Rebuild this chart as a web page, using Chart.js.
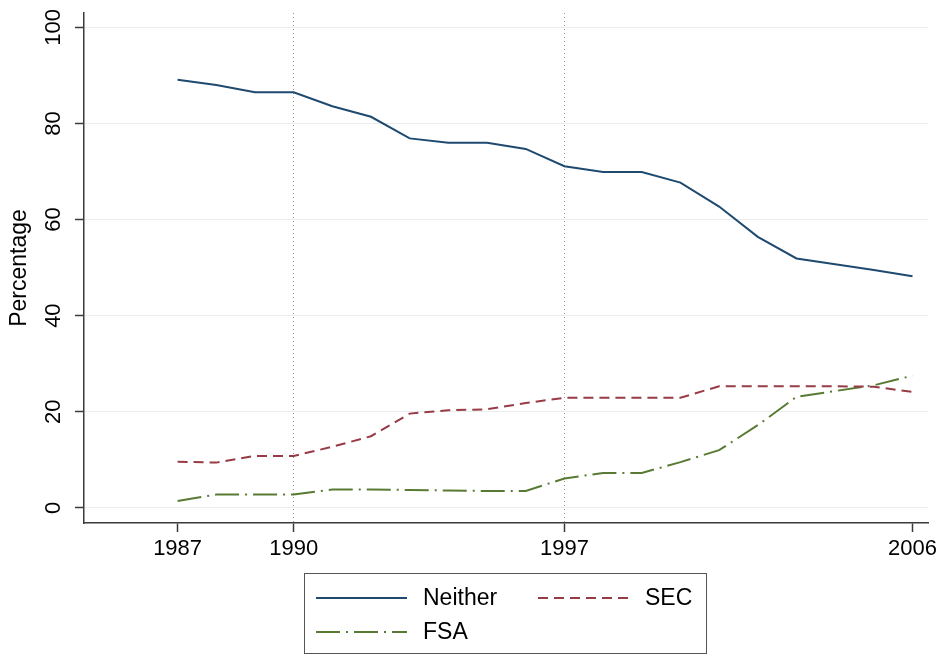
<!DOCTYPE html>
<html>
<head>
<meta charset="utf-8">
<script src="https://cdn.jsdelivr.net/npm/chart.js@4/dist/chart.umd.min.js"></script>
<style>
  html, body { margin: 0; padding: 0; background: #fff; }
  #wrap { width: 943px; height: 654px; }
</style>
</head>
<body>
<div id="wrap"><canvas id="lineChart" width="943" height="654"></canvas></div>
<script>
// datos
const years = [1987, 1988, 1989, 1990, 1991, 1992, 1993, 1994, 1995, 1996, 1997, 1998, 1999, 2000, 2001, 2002, 2003, 2004, 2005, 2006];
const neither = [89.1, 88.0, 86.5, 86.5, 83.6, 81.4, 76.9, 76.0, 76.0, 74.7, 71.1, 69.9, 69.9, 67.7, 62.7, 56.4, 51.9, 50.7, 49.5, 48.2];
const sec = [9.6, 9.4, 10.8, 10.8, 12.7, 14.9, 19.6, 20.3, 20.5, 21.8, 22.9, 22.9, 22.9, 22.9, 25.3, 25.3, 25.3, 25.3, 25.2, 24.1];
const fsa = [1.4, 2.75, 2.75, 2.75, 3.8, 3.8, 3.7, 3.6, 3.5, 3.5, 6.1, 7.25, 7.25, 9.5, 12.0, 17.2, 23.1, 24.3, 25.5, 27.5];
const xTicks = [1987, 1990, 1997, 2006];
const markYears = [1990, 1997];
const yTicks = [0, 20, 40, 60, 80, 100];

const FONT = '"Liberation Sans", Arial, Helvetica, sans-serif';

function toPoints(vals) {
    return years.map(function(y, i) { return { x: y, y: vals[i] }; });
}

// leyenda con caja, como en el original
const boxLegend = {
    id: 'boxLegend',
    afterDraw: function(chart) {
        const ctx = chart.ctx;
        const ds = chart.data.datasets;
        ctx.save();
        ctx.strokeStyle = '#555';
        ctx.lineWidth = 1;
        ctx.strokeRect(304.5, 573.5, 402, 80);
        const slots = [
            { x: 316, y: 598 },
            { x: 538, y: 598 },
            { x: 316, y: 632 }
        ];
        ds.forEach(function(d, i) {
            const s = slots[i];
            ctx.beginPath();
            ctx.setLineDash(d.borderDash || []);
            ctx.strokeStyle = d.borderColor;
            ctx.lineWidth = 2;
            ctx.moveTo(s.x, s.y);
            ctx.lineTo(s.x + 91, s.y);
            ctx.stroke();
            ctx.setLineDash([]);
            ctx.fillStyle = '#000';
            ctx.font = '23px ' + FONT;
            ctx.textBaseline = 'middle';
            ctx.textAlign = 'left';
            ctx.fillText(d.label, s.x + 107, s.y + 1);
        });
        ctx.restore();
    }
};

const config = {
    type: 'line',
    data: {
        datasets: [{
            label: 'Neither',
            data: toPoints(neither),
            borderColor: '#1f4a70',
            borderWidth: 2,
            pointRadius: 0,
            tension: 0
        }, {
            label: 'SEC',
            data: toPoints(sec),
            borderColor: '#993a47',
            borderWidth: 2,
            borderDash: [10, 6],
            pointRadius: 0,
            tension: 0
        }, {
            label: 'FSA',
            data: toPoints(fsa),
            borderColor: '#587a32',
            borderWidth: 2,
            borderDash: [24, 6, 2, 6],
            pointRadius: 0,
            tension: 0
        }]
    },
    options: {
        responsive: false,
        animation: false,
        layout: { padding: { left: 0, right: 15, top: 13, bottom: 0 } },
        plugins: {
            legend: { display: false },
            tooltip: { enabled: false }
        },
        scales: {
            x: {
                type: 'linear',
                min: 1984.58,
                max: 2006.4,
                afterBuildTicks: function(s) {
                    s.ticks = xTicks.map(function(v) { return { value: v }; });
                },
                afterFit: function(s) {
                    s.height = 131;
                    s.paddingLeft = 0;
                    s.paddingRight = 0;
                },
                border: { color: '#3a3a3a', width: 1.5, dash: [1, 3] },
                grid: {
                    color: function(c) {
                        return c.tick && markYears.indexOf(c.tick.value) >= 0 ? '#999' : 'rgba(0,0,0,0)';
                    },
                    lineWidth: 1,
                    tickColor: '#3a3a3a',
                    tickLength: 9,
                    tickWidth: 1.5
                },
                ticks: {
                    autoSkip: false,
                    maxRotation: 0,
                    color: '#000',
                    padding: 4,
                    font: { family: FONT, size: 22 },
                    callback: function(v) { return String(v); }
                }
            },
            y: {
                min: -3.17,
                max: 103,
                afterBuildTicks: function(s) {
                    s.ticks = yTicks.map(function(v) { return { value: v }; });
                },
                afterFit: function(s) {
                    s.width = 84;
                    s.paddingTop = 0;
                    s.paddingBottom = 0;
                },
                border: { color: '#3a3a3a', width: 1.5 },
                grid: {
                    color: '#ececec',
                    lineWidth: 1,
                    tickColor: '#3a3a3a',
                    tickLength: 9,
                    tickWidth: 1.5
                },
                title: {
                    display: true,
                    text: 'Percentage',
                    color: '#000',
                    font: { family: FONT, size: 23 },
                    padding: { top: 6, bottom: 0 }
                },
                ticks: {
                    autoSkip: false,
                    minRotation: 90,
                    maxRotation: 90,
                    crossAlign: 'center',
                    color: '#000',
                    padding: 3,
                    font: { family: FONT, size: 22 }
                }
            }
        }
    },
    plugins: [boxLegend]
};

var myChart = new Chart(document.getElementById('lineChart'), config);
</script>
</body>
</html>
